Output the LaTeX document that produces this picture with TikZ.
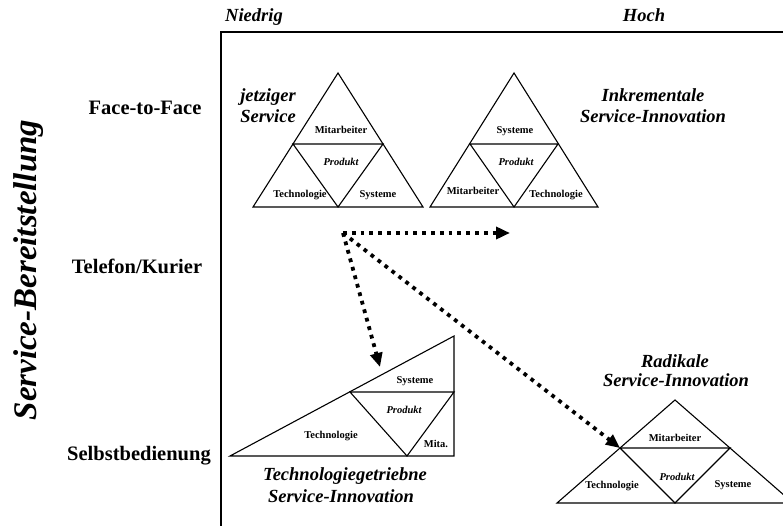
\documentclass[tikz,border=0pt]{standalone}
\usepackage{fontspec}
\setmainfont{Liberation Serif}
\usetikzlibrary{arrows.meta}
\begin{document}
\begin{tikzpicture}[x=1pt,y=-1pt,
  frame/.style={line width=1.3pt},
  tri/.style={line width=1.1pt, line join=miter},
  row/.style={font=\fontsize{20.5}{24}\selectfont\bfseries, anchor=base, inner sep=0pt},
  axis/.style={font=\fontsize{18.5}{22}\selectfont\bfseries\itshape, anchor=base, inner sep=0pt},
  grp/.style={font=\fontsize{18.5}{22}\selectfont\bfseries\itshape, anchor=base, inner sep=0pt},
  part/.style={font=\fontsize{10.5}{12}\selectfont\bfseries, anchor=base, inner sep=0pt},
  prod/.style={font=\fontsize{10.5}{12}\selectfont\bfseries\itshape, anchor=base, inner sep=0pt},
  move/.style={line width=3.8pt, dash pattern=on 3.8pt off 5pt, -{Triangle[length=14pt,width=12pt]}}
]
\useasboundingbox (0,0) rectangle (783,526);

% axes frame
\draw[frame] (221,526) -- (221,32) -- (800,32);

% axis labels
\node[axis] (low)  at (254,22) {Niedrig};
\node[axis] (high) at (644,22) {Hoch};
\node[font=\fontsize{33}{36}\selectfont\bfseries\itshape, rotate=90, anchor=base, inner sep=0pt]
  (yaxis) at (36,270) {Service-Bereitstellung};

% delivery channels
\node[row] (f2f)  at (145,115) {Face-to-Face};
\node[row] (tel)  at (137,273) {Telefon/Kurier};
\node[row] (self) at (139,460) {Selbstbedienung};

% triangle 1: current service
\coordinate (t1a) at (338,73);  \coordinate (t1l) at (253,207); \coordinate (t1r) at (423,207);
\coordinate (t1ml) at (293,144); \coordinate (t1mr) at (383,144); \coordinate (t1b) at (338,207);
\draw[tri] (t1a) -- (t1l) -- (t1r) -- cycle;
\draw[tri] (t1ml) -- (t1mr) -- (t1b) -- cycle;
\node[part] (t1top) at (341,134) {Mitarbeiter};
\node[prod] (t1mid) at (341,166) {Produkt};
\node[part] (t1lft) at (300,198) {Technologie};
\node[part] (t1rgt) at (378,198) {Systeme};
\node[grp] (cur1) at (268,102) {jetziger};
\node[grp] (cur2) at (268,123) {Service};

% triangle 2: incremental innovation
\coordinate (t2a) at (514,73);  \coordinate (t2l) at (430,207); \coordinate (t2r) at (598,207);
\coordinate (t2ml) at (470,144); \coordinate (t2mr) at (558,144); \coordinate (t2b) at (514,207);
\draw[tri] (t2a) -- (t2l) -- (t2r) -- cycle;
\draw[tri] (t2ml) -- (t2mr) -- (t2b) -- cycle;
\node[part] (t2top) at (515,134) {Systeme};
\node[prod] (t2mid) at (516,166) {Produkt};
\node[part] (t2lft) at (473,195) {Mitarbeiter};
\node[part] (t2rgt) at (556,198) {Technologie};
\node[grp] (inc1) at (653,102) {Inkrementale};
\node[grp] (inc2) at (653,123) {Service-Innovation};

% triangle 3: technology-driven innovation
\coordinate (t3l) at (230,456); \coordinate (t3r) at (454,456); \coordinate (t3t) at (454,336);
\coordinate (t3ml) at (350,392); \coordinate (t3mr) at (454,392); \coordinate (t3b) at (407,456);
\draw[tri] (t3l) -- (t3r) -- (t3t) -- cycle;
\draw[tri] (t3ml) -- (t3mr) -- (t3b) -- cycle;
\node[part] (t3top) at (415,383) {Systeme};
\node[prod] (t3mid) at (404,413) {Produkt};
\node[part] (t3lft) at (331,438) {Technologie};
\node[part] (t3rgt) at (436,447) {Mita.};
\node[grp] (tech1) at (345,480) {Technologiegetriebne};
\node[grp] (tech2) at (341,502) {Service-Innovation};

% triangle 4: radical innovation
\coordinate (t4a) at (675,400); \coordinate (t4l) at (557,503); \coordinate (t4r) at (793,503);
\coordinate (t4ml) at (620,448); \coordinate (t4mr) at (730,448); \coordinate (t4b) at (675,503);
\draw[tri] (t4a) -- (t4l) -- (t4r) -- cycle;
\draw[tri] (t4ml) -- (t4mr) -- (t4b) -- cycle;
\node[part] (t4top) at (675,441) {Mitarbeiter};
\node[prod] (t4mid) at (677,480) {Produkt};
\node[part] (t4lft) at (612,488) {Technologie};
\node[part] (t4rgt) at (733,487) {Systeme};
\node[grp] (rad1) at (675,367) {Radikale};
\node[grp] (rad2) at (676,386) {Service-Innovation};

% innovation paths
\coordinate (start) at (343,233);
\coordinate (incTip) at (510,233);
\coordinate (techTip) at (380,367);
\draw[move] (start) -- (incTip);
\draw[move] (start) -- (techTip);
\draw[move] (start) -- (t4ml);
\end{tikzpicture}
\end{document}
